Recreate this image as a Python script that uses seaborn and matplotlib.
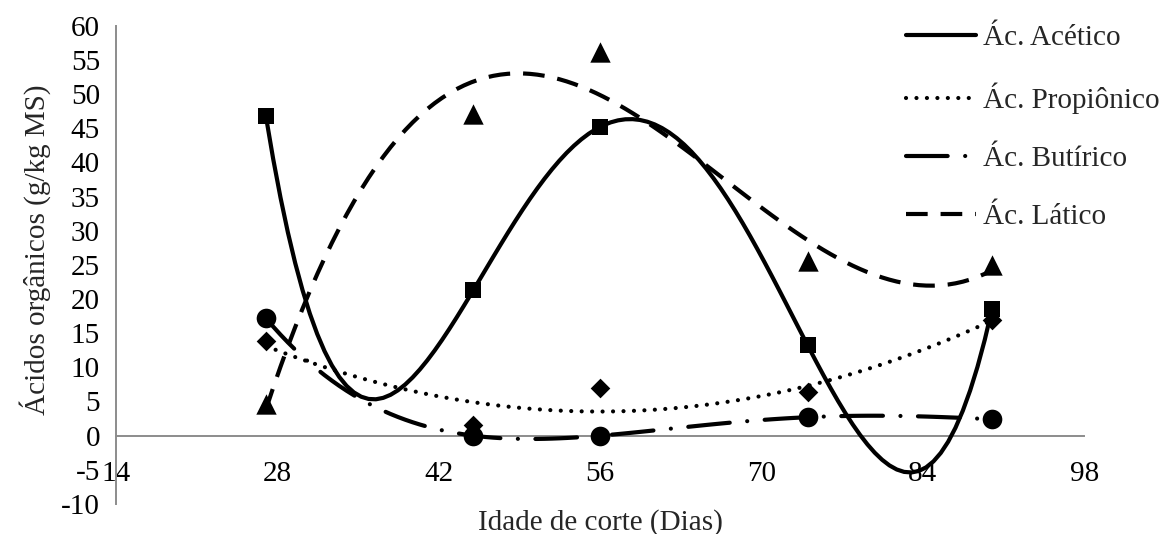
import warnings
import numpy as np
import matplotlib
matplotlib.use("Agg")
import matplotlib.pyplot as plt
import seaborn as sns

# Idade de corte (dias) e teores de ácidos orgânicos (g/kg MS)
dias = [27, 45, 56, 74, 90]
acetico = [46.8, 21.3, 45.2, 13.2, 18.6]
propionico = [13.9, 1.5, 7.0, 6.4, 16.9]
butirico = [17.2, 0.0, 0.0, 2.7, 2.4]
latico = [4.6, 47.1, 56.1, 25.5, 25.0]

series_labels = ["Ác. Acético", "Ác. Propiônico", "Ác. Butírico", "Ác. Lático"]
x_ticks = [14, 28, 42, 56, 70, 84, 98]
y_ticks = list(range(-10, 61, 5))

sns.set_style("white")
plt.rcParams["font.family"] = ["Liberation Serif", "DejaVu Serif"]
plt.rcParams["axes.unicode_minus"] = False

FS = 21
LW = 3.0
AXIS_GRAY = "#8c8c8c"

fig = plt.figure(figsize=(11.62, 5.34), dpi=100)
ax = fig.add_axes([0.0998, 0.0562, 0.8334, 0.8957])

# (valores, marcador, área do marcador, ordem do polinômio, estilo da linha)
specs = [
    (acetico, "s", 117, 4, dict(linestyle="-")),
    (propionico, "D", 100, 2, dict(linestyle=(0, (0.01, 2.5)), dash_capstyle="round")),
    (butirico, "o", 200, 4, dict(linestyle=(0, (10, 4.2, 0.01, 4.2)), dash_capstyle="round")),
    (latico, "^", 215, 3, dict(linestyle=(0, (5.2, 3.1)))),
]

with warnings.catch_warnings():
    warnings.simplefilter("ignore")
    for (vals, mk, size, order, ls), lab in zip(specs, series_labels):
        lkw = dict(lw=LW, color="black", label=lab, zorder=3)
        lkw.update(ls)
        sns.regplot(
            x=np.array(dias, dtype=float), y=np.array(vals, dtype=float),
            order=order, ci=None, ax=ax, marker=mk, color="black",
            scatter_kws=dict(s=size, linewidths=0, zorder=4, alpha=1),
            line_kws=lkw,
        )

ax.set_xlim(14, 98)
ax.set_ylim(-10, 60)
ax.set_xticks(x_ticks)
ax.set_yticks(y_ticks)
ax.set_xticklabels([str(v) for v in x_ticks])
ax.set_yticklabels([str(v) for v in y_ticks])

for side in ("top", "right"):
    ax.spines[side].set_visible(False)
ax.spines["bottom"].set_position(("data", 0))
for side in ("left", "bottom"):
    ax.spines[side].set_color(AXIS_GRAY)
    ax.spines[side].set_linewidth(1.4)
    ax.spines[side].set_zorder(1)

ax.tick_params(axis="x", direction="out", length=5.4, width=1.4, color=AXIS_GRAY,
               pad=12.5, labelcolor="black", labelsize=FS)
ax.tick_params(axis="y", direction="out", length=6.3, width=1.4, color=AXIS_GRAY,
               pad=5.2, labelcolor="black", labelsize=FS)

ax.set_xlabel("Idade de corte (Dias)", fontsize=FS)
ax.set_ylabel("Ácidos orgânicos (g/kg MS)", fontsize=FS)
ax.xaxis.set_label_coords(0.5, -0.01)
ax.yaxis.set_label_coords(-0.0674, 0.532)

ax.legend(
    loc="upper left", bbox_to_anchor=(906 / 1162, 1 - 25 / 534),
    bbox_transform=fig.transFigure, frameon=False, fontsize=FS,
    handlelength=2.4, handletextpad=0.25, labelspacing=1.08,
    borderpad=0, borderaxespad=0,
)

fig.savefig("out.png", dpi=100)
